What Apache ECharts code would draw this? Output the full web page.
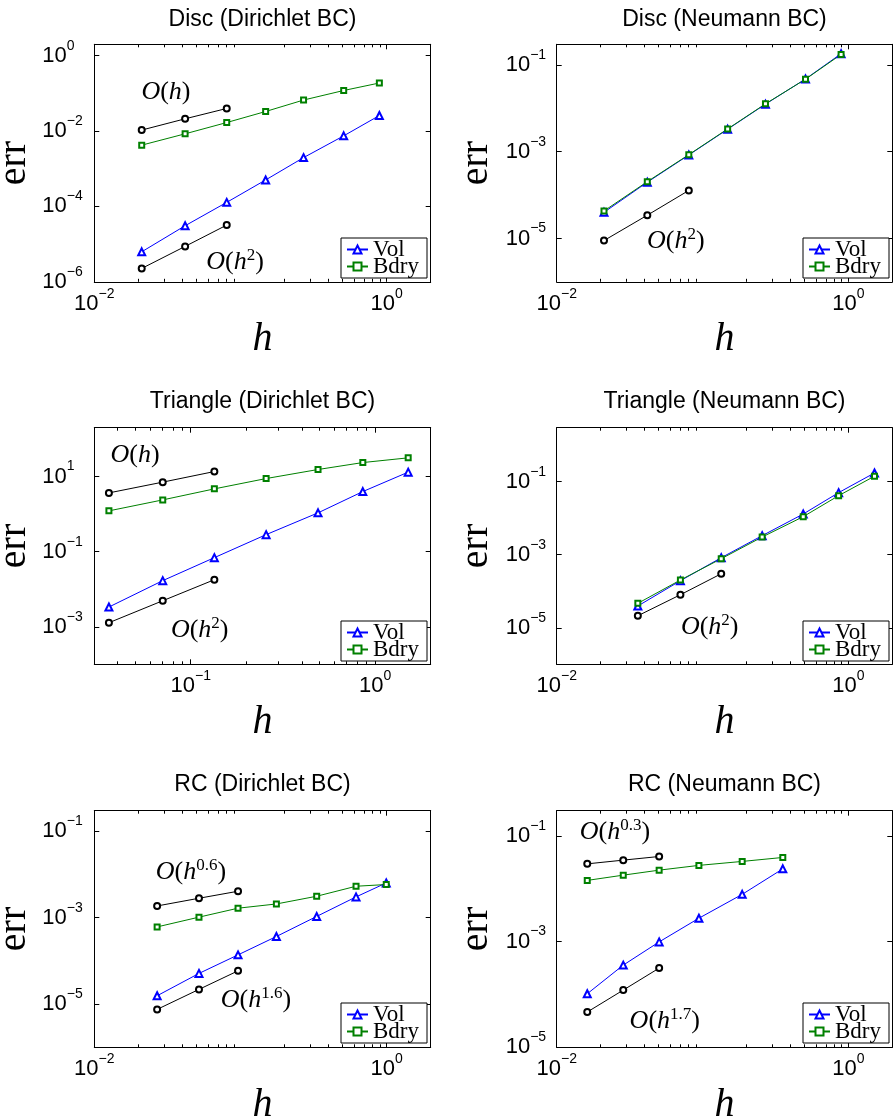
<!DOCTYPE html>
<html><head><meta charset="utf-8">
<script src="https://cdn.jsdelivr.net/npm/echarts@6/dist/echarts.min.js"></script>
<style>html,body{margin:0;padding:0;background:#fff}#c{width:893px;height:1120px}</style>
</head><body><div id="c"></div>
<script>
// ---------------- data ----------------
const hDisc = [0.0211, 0.0418, 0.0805, 0.1486, 0.270, 0.508, 0.891];
const discDirVol  = [6.24e-6, 3.07e-5, 1.28e-4, 5.04e-4, 1.97e-3, 7.45e-3, 2.58e-2];
const discDirBdry = [4.22e-3, 8.43e-3, 1.68e-2, 3.30e-2, 6.64e-2, 0.119, 0.188];
const discDirRef1 = [1.06e-2, 2.11e-2, 3.97e-2];
const discDirRef2 = [2.26e-6, 8.69e-6, 3.20e-5];
const discNeuVol  = [4.0e-5, 1.98e-4, 8.4e-4, 3.3e-3, 1.25e-2, 4.75e-2, 0.182];
const discNeuBdry = [4.3e-5, 2.04e-4, 8.55e-4, 3.35e-3, 1.27e-2, 4.7e-2, 0.175];
const discNeuRef2 = [8.94e-6, 3.43e-5, 1.28e-4];

const hTri = [0.0360, 0.0705, 0.1343, 0.2563, 0.490, 0.857, 1.51];
const triDirVol  = [3.35e-3, 1.69e-2, 6.92e-2, 0.284, 1.08, 3.98, 13.1];
const triDirBdry = [1.22, 2.39, 4.70, 8.85, 15.4, 23.6, 31.5];
const triDirRef1 = [3.67, 7.10, 13.6];
const triDirRef2 = [1.28e-3, 4.93e-3, 1.79e-2];
const triNeuVol  = [3.94e-5, 1.94e-4, 8.28e-4, 3.32e-3, 1.30e-2, 5.0e-2, 0.173];
const triNeuBdry = [4.66e-5, 2.03e-4, 7.76e-4, 3.05e-3, 1.10e-2, 4.13e-2, 0.141];
const triNeuRef2 = [2.13e-5, 8.02e-5, 3.01e-4];

const hRC = [0.0269, 0.052, 0.0962, 0.176, 0.332, 0.617, 0.993];
const rcDirVol  = [1.56e-5, 5.13e-5, 1.38e-4, 3.67e-4, 1.07e-3, 3.03e-3, 6.38e-3];
const rcDirBdry = [6.12e-4, 1.03e-3, 1.66e-3, 2.08e-3, 3.14e-3, 5.35e-3, 5.86e-3];
const rcDirRef1 = [1.87e-3, 2.82e-3, 4.10e-3];
const rcDirRef2 = [7.54e-6, 2.19e-5, 5.89e-5];
const hRCN = [0.0162, 0.0286, 0.0504, 0.0944, 0.187, 0.355];
const rcNeuVol  = [1.03e-4, 3.59e-4, 9.87e-4, 2.77e-3, 7.84e-3, 2.38e-2];
const rcNeuBdry = [1.44e-2, 1.81e-2, 2.25e-2, 2.77e-2, 3.29e-2, 3.91e-2];
const rcNeuRef1 = [2.96e-2, 3.48e-2, 4.08e-2];
const rcNeuRef2 = [4.65e-5, 1.21e-4, 3.15e-4];

// tick labels (major ticks)
const xTicksA = [0.01, 1];
const xTicksTri = [0.1, 1];
const yTicksDiscDir = [1e-6, 1e-4, 1e-2, 1];
const yTicksOdd = [1e-5, 1e-3, 1e-1];
const yTicksTriDir = [1e-3, 1e-1, 10];

// annotation texts and anchor points (data coords)
const notesDiscDir = [{ sup: '', at: [0.0309, 0.110] }, { sup: '2', at: [0.0917, 3.32e-6] }];
const notesDiscNeu = [{ sup: '2', at: [0.0655, 8.6e-6] }];
const notesTriDir  = [{ sup: '', at: [0.0499, 37.9] }, { sup: '2', at: [0.1118, 8.17e-4] }];
const notesTriNeu  = [{ sup: '2', at: [0.112, 1.04e-5] }];
const notesRcDir   = [{ sup: '0.6', at: [0.0458, 1.13e-2] }, { sup: '1.6', at: [0.1276, 1.24e-5] }];
const notesRcNeu   = [{ sup: '0.3', at: [0.0251, 0.117] }, { sup: '1.7', at: [0.0551, 3.19e-5] }];

// ---------------- layout / styles ----------------
const SANS = 'Liberation Sans, Arial, Helvetica, sans-serif';
const SERIF = 'Liberation Serif, Times New Roman, serif';
const BLUE = '#0000ff', GREEN = '#008000', BLACK = '#000000';

const panels = [
  { title: 'Disc (Dirichlet BC)', col: 0, row: 0, x: [0.01, 2], xT: xTicksA, y: [1e-6, 2], yT: yTicksDiscDir,
    h: hDisc, vol: discDirVol, bdry: discDirBdry, refs: [discDirRef1, discDirRef2], notes: notesDiscDir },
  { title: 'Disc (Neumann BC)', col: 1, row: 0, x: [0.01, 2], xT: xTicksA, y: [1e-6, 0.3], yT: yTicksOdd,
    h: hDisc, vol: discNeuVol, bdry: discNeuBdry, refs: [discNeuRef2], notes: notesDiscNeu },
  { title: 'Triangle (Dirichlet BC)', col: 0, row: 1, x: [0.03, 2], xT: xTicksTri, y: [1e-4, 200], yT: yTicksTriDir,
    h: hTri, vol: triDirVol, bdry: triDirBdry, refs: [triDirRef1, triDirRef2], notes: notesTriDir },
  { title: 'Triangle (Neumann BC)', col: 1, row: 1, x: [0.01, 2], xT: xTicksA, y: [1e-6, 3], yT: yTicksOdd,
    h: hTri, vol: triNeuVol, bdry: triNeuBdry, refs: [triNeuRef2], notes: notesTriNeu },
  { title: 'RC (Dirichlet BC)', col: 0, row: 2, x: [0.01, 2], xT: xTicksA, y: [1e-6, 0.3], yT: yTicksOdd,
    h: hRC, vol: rcDirVol, bdry: rcDirBdry, refs: [rcDirRef1, rcDirRef2], notes: notesRcDir },
  { title: 'RC (Neumann BC)', col: 1, row: 2, x: [0.01, 2], xT: xTicksA, y: [1e-5, 0.3], yT: yTicksOdd,
    h: hRCN, vol: rcNeuVol, bdry: rcNeuBdry, refs: [rcNeuRef1, rcNeuRef2], notes: notesRcNeu }
];

const colLeft = [94.3, 556.7], colWidth = [336.4, 335.6], colCenter = [262.5, 724.5];
const rowTop = [44.3, 427.7, 810.7], rowHeight = [237.5, 236.6, 236.6];
const titleTop = [8, 390.5, 773];
const legendRight = [466, 4], legendBottom = [842, 459, 77];

function fmtExp(v) {
  const e = Math.round(Math.log10(v));
  return '{b|10}{s|' + (e < 0 ? '\u2212' + (-e) : String(e)) + '}';
}
const tickRich = {
  b: { fontFamily: SANS, fontSize: 22, lineHeight: 34, color: BLACK },
  s: { fontFamily: SANS, fontSize: 14, lineHeight: 14, verticalAlign: 'top', color: BLACK }
};
function minorTicks(min, max) {
  const out = [];
  for (let e = Math.floor(Math.log10(min)); e <= Math.ceil(Math.log10(max)); e++) {
    for (let m = 2; m <= 9; m++) {
      const v = +(m * Math.pow(10, e)).toPrecision(6);
      if (v > min * 1.0001 && v < max * 0.9999) out.push(v);
    }
  }
  return out;
}
const noteRich = {
  o: { fontFamily: SERIF, fontStyle: 'italic', fontSize: 26, lineHeight: 30, color: BLACK, opacity: 1 },
  p: { fontFamily: SERIF, fontSize: 26, lineHeight: 30, color: BLACK, opacity: 1 },
  h: { fontFamily: SERIF, fontStyle: 'italic', fontSize: 26, lineHeight: 30, color: BLACK, opacity: 1 },
  s: { fontFamily: SERIF, fontSize: 17, lineHeight: 20, verticalAlign: 'top', color: BLACK, opacity: 1 }
};

const option = { animation: false, backgroundColor: '#fff', title: [], grid: [], xAxis: [], yAxis: [], legend: [], series: [] };

panels.forEach((p, g) => {
  option.title.push({ text: p.title, left: colCenter[p.col], top: titleTop[p.row], textAlign: 'center', padding: 0,
    textStyle: { fontFamily: SANS, fontSize: 23, fontWeight: 'normal', color: BLACK } });
  option.grid.push({ left: colLeft[p.col], top: rowTop[p.row], width: colWidth[p.col], height: rowHeight[p.row],
    show: false, containLabel: false, outerBoundsMode: 'none' });
  const lineS = { show: true, onZero: false, lineStyle: { color: BLACK, width: 1 } };
  const base = { gridIndex: g, type: 'log', logBase: 10, min: p.x[0], max: p.x[1], splitLine: { show: false }, minorTick: { show: false } };
  const xi = option.xAxis.length;
  option.xAxis.push(Object.assign({}, base, { position: 'bottom', axisLine: lineS,
    axisTick: { show: true, inside: true, length: 5, customValues: p.xT, lineStyle: { color: BLACK } },
    axisLabel: { show: true, customValues: p.xT, formatter: fmtExp, rich: tickRich, margin: 5 },
    name: 'h', nameLocation: 'middle', nameGap: 38,
    nameTextStyle: { fontFamily: SERIF, fontStyle: 'italic', fontSize: 40, color: BLACK } }));
  option.xAxis.push(Object.assign({}, base, { position: 'top', axisLine: lineS,
    axisTick: { show: true, inside: true, length: 5, customValues: p.xT, lineStyle: { color: BLACK } },
    axisLabel: { show: false } }));
  const mt = minorTicks(p.x[0], p.x[1]);
  ['bottom', 'top'].forEach(pos => option.xAxis.push(Object.assign({}, base, { position: pos, axisLine: { show: false },
    axisTick: { show: true, inside: true, length: 3, customValues: mt, lineStyle: { color: BLACK } },
    axisLabel: { show: false } })));
  const yb = { gridIndex: g, type: 'log', logBase: 10, min: p.y[0], max: p.y[1], splitLine: { show: false }, minorTick: { show: false } };
  const yi = option.yAxis.length;
  option.yAxis.push(Object.assign({}, yb, { position: 'left', axisLine: lineS,
    axisTick: { show: true, inside: true, length: 5, customValues: p.yT, lineStyle: { color: BLACK } },
    axisLabel: { show: true, customValues: p.yT, formatter: fmtExp, rich: tickRich, align: 'left', margin: p.col ? 51 : 52 },
    name: 'err', nameLocation: 'middle', nameGap: 60,
    nameTextStyle: { fontFamily: SERIF, fontSize: 40, color: BLACK } }));
  option.yAxis.push(Object.assign({}, yb, { position: 'right', axisLine: lineS,
    axisTick: { show: true, inside: true, length: 5, customValues: p.yT, lineStyle: { color: BLACK } },
    axisLabel: { show: false } }));

  const mk = (name, xs, ys, color, symbol, size) => ({
    name, type: 'line', xAxisIndex: xi, yAxisIndex: yi, data: xs.map((x, i) => [x, ys[i]]),
    symbol, symbolSize: size, showAllSymbol: true,
    lineStyle: { color, width: 1 }, itemStyle: { color, borderColor: color, borderWidth: 1 },
    emphasis: { disabled: true }, silent: true
  });
  p.refs.forEach((r, k) => option.series.push(mk('ref' + g + '_' + k, p.h.slice(0, r.length), r, BLACK, 'emptyCircle', 6)));
  option.series.push(mk('Vol', p.h, p.vol, BLUE, 'emptyTriangle', 7));
  option.series.push(mk('Bdry', p.h, p.bdry, GREEN, 'emptyRect', 5));
  option.series.push({
    name: 'notes' + g, type: 'scatter', xAxisIndex: xi, yAxisIndex: yi, symbolSize: 0, silent: true,
    itemStyle: { opacity: 1 },
    data: p.notes.map(n => ({ value: n.at, sup: n.sup })),
    label: { show: true, position: 'inside', color: BLACK, opacity: 1,
      formatter: prm => '{o|O}{p|(}{h|h}' + (prm.data.sup ? '{s|' + prm.data.sup + '}' : '') + '{p|)}',
      rich: noteRich }
  });
  option.legend.push({
    data: ['Vol', 'Bdry'], orient: 'vertical', right: legendRight[p.col], bottom: legendBottom[p.row],
    itemWidth: 21, itemHeight: 10, itemGap: -6, padding: [0, 8, 0, 5], selectedMode: false,
    borderColor: BLACK, borderWidth: 1, backgroundColor: '#fff', borderRadius: 0,
    textStyle: { fontFamily: SERIF, fontSize: 23, color: BLACK }
  });
});

const chart = echarts.init(document.getElementById('c'), null, { renderer: 'canvas' });
chart.setOption(option);
</script>
</body></html>
